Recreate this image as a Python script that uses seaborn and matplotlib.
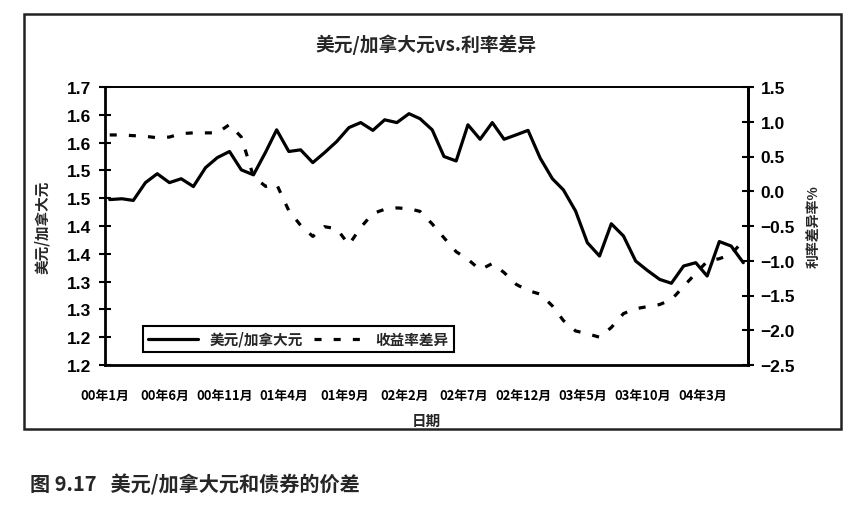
import numpy as np
import pandas as pd
import seaborn as sns
import matplotlib.pyplot as plt
from matplotlib.patches import Rectangle

# ----- ----- ----- ----- ----- -----
# Data (monthly, Jan 2000 - Jun 2004)
# ----- ----- ----- ----- ----- -----
months = pd.date_range('2000-01-01', periods=54, freq='MS') + pd.Timedelta(days=12)

usd_cad = [1.4475, 1.449, 1.446, 1.478, 1.494, 1.478, 1.485, 1.471, 1.505, 1.523,
           1.534, 1.501, 1.492, 1.533, 1.573, 1.534, 1.537, 1.514, 1.532, 1.552,
           1.577, 1.586, 1.572, 1.591, 1.586, 1.602, 1.593, 1.573, 1.525, 1.517,
           1.582, 1.556, 1.586, 1.556, 1.564, 1.572, 1.522, 1.485, 1.465, 1.427,
           1.370, 1.346, 1.404, 1.382, 1.337, 1.320, 1.304, 1.297, 1.328, 1.334,
           1.310, 1.372, 1.364, 1.334]

spread = [0.81, 0.81, 0.80, 0.79, 0.77, 0.78, 0.83, 0.84, 0.84, 0.84,
          0.96, 0.78, 0.21, 0.07, 0.10, -0.28, -0.49, -0.65, -0.51, -0.54,
          -0.77, -0.52, -0.32, -0.26, -0.24, -0.25, -0.29, -0.47, -0.67, -0.87,
          -0.98, -1.13, -1.04, -1.17, -1.34, -1.43, -1.48, -1.65, -1.86, -2.01,
          -2.05, -2.10, -1.96, -1.76, -1.69, -1.66, -1.63, -1.56, -1.37, -1.18,
          -1.01, -0.97, -0.91, -0.71]

tick_months = pd.date_range('2000-01-01', periods=11, freq='5MS')
tick_labels = ['00年1月', '00年6月', '00年11月', '01年4月', '01年9月', '02年2月',
               '02年7月', '02年12月', '03年5月', '03年10月', '04年3月']

left_ticks = [1.15, 1.20, 1.25, 1.30, 1.35, 1.40, 1.45, 1.50, 1.55, 1.60, 1.65]
left_labels = ['1.2', '1.2', '1.3', '1.3', '1.4', '1.4', '1.5', '1.5', '1.6', '1.6', '1.7']
right_ticks = [-2.5, -2.0, -1.5, -1.0, -0.5, 0.0, 0.5, 1.0, 1.5]

sns.set_theme(style='white')
plt.rcParams['font.family'] = ['Noto Sans CJK SC', 'DejaVu Sans']
cjk = ['Noto Sans CJK SC', 'DejaVu Sans']
num = ['Liberation Sans', 'DejaVu Sans']

fig = plt.figure(figsize=(8.6, 5.1), dpi=100)
ax = fig.add_axes([105 / 860, 1 - 366 / 510, 643 / 860, 278 / 510])
ax2 = ax.twinx()

sns.lineplot(x=months, y=usd_cad, ax=ax, color='black', lw=2.3, label='美元/加拿大元', legend=False)
sns.lineplot(x=months, y=spread, ax=ax2, color='black', lw=2.3, label='收益率差异', legend=False,
             linestyle=(0, (2.2, 3.8)))

ax.set_xlim(pd.Timestamp('2000-01-01'), pd.Timestamp('2004-06-25'))
ax.set_ylim(1.15, 1.65)
ax2.set_ylim(-2.5, 1.5)

ax.set_xticks(tick_months)
ax.set_xticklabels(tick_labels, fontsize=9.3, fontweight='bold', family=cjk)
ax.set_yticks(left_ticks)
ax.set_yticklabels(left_labels, fontsize=12.5, fontweight='bold', family=num)
ax2.set_yticks(right_ticks)
ax2.set_yticklabels([f'{v:.1f}'.replace('-', '\u2212') for v in right_ticks],
                    fontsize=12.5, fontweight='bold', family=num)

ax.tick_params(axis='x', direction='inout', length=8, width=1.5, pad=13, colors='black')
ax.tick_params(axis='y', direction='inout', length=8, width=1.5, pad=6, colors='black')
ax2.tick_params(axis='y', direction='inout', length=8, width=1.5, pad=5, colors='black')

for side in ['left', 'bottom', 'right', 'top']:
    ax.spines[side].set_color('black')
    ax.spines[side].set_linewidth(2 if side != 'top' else 1.4)
for side in ['left', 'bottom', 'top']:
    ax2.spines[side].set_visible(False)
ax2.spines['right'].set_color('black')
ax2.spines['right'].set_linewidth(2)

ax.set_xlabel('日期', fontsize=10.5, fontweight='bold', family=cjk, labelpad=7)
ax.set_ylabel('美元/加拿大元', fontsize=10.5, fontweight='bold', family=cjk, labelpad=12)
ax2.set_ylabel('利率差异率%', fontsize=10, fontweight='bold', family=cjk, labelpad=9)

handles = [ax.get_lines()[0], ax2.get_lines()[0]]
leg = ax2.legend(handles=handles, labels=['美元/加拿大元', '收益率差异'], ncol=2,
                 loc='lower left', bbox_to_anchor=(0.059, 0.047), borderaxespad=0,
                 frameon=True, fancybox=False, framealpha=1, edgecolor='black',
                 handlelength=3.4, handletextpad=0.8, columnspacing=0.8,
                 borderpad=0.35, prop={'family': cjk, 'weight': 'bold', 'size': 10.5})
leg.get_frame().set_linewidth(1.5)

fig.text(0.495, 1 - 45 / 510, '美元/加拿大元vs.利率差异', ha='center', va='center',
         fontsize=13.5, fontweight='bold', family=cjk)
fig.add_artist(Rectangle((24 / 860, 1 - 430 / 510), 817 / 860, 415 / 510,
                         transform=fig.transFigure, fill=False, lw=1.8, ec='#222222'))
fig.text(30 / 860, 1 - 485 / 510, '图 9.17   美元/加拿大元和债券的价差', ha='left', va='center',
         fontsize=14.5, fontweight='bold', family=cjk)

fig.savefig('out.png', dpi=100)
